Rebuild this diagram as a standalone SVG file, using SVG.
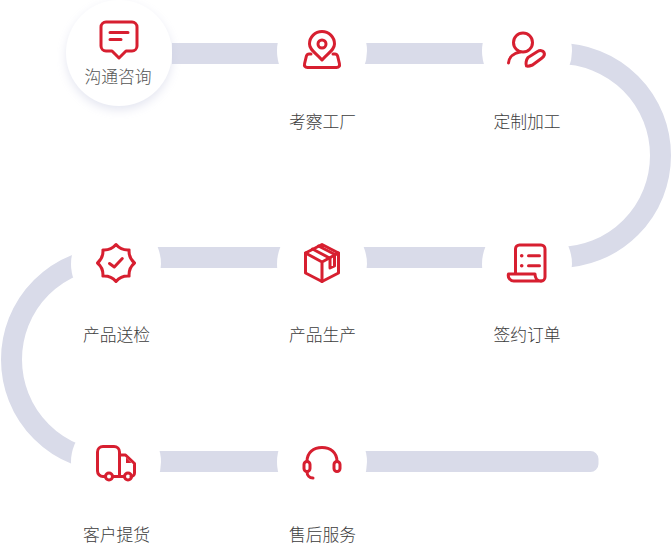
<svg xmlns="http://www.w3.org/2000/svg" width="671" height="543" viewBox="0 0 671 543">
<defs>
<filter id="halo" x="-30%" y="-30%" width="160%" height="170%"><feDropShadow dx="0" dy="4" stdDeviation="5" flood-color="#c5c9e0" flood-opacity="0.45"/></filter>
</defs>
<style>
text{font-family:"Noto Sans CJK SC","Noto Sans",sans-serif;font-size:16.8px;font-weight:300;fill:#3c3c3c;text-anchor:middle}
.i{fill:none;stroke:#d71f30;stroke-width:3;stroke-linecap:round;stroke-linejoin:round}
.f{fill:#d71f30;stroke:none}
.mask{fill:#fff}
</style>
<rect width="671" height="543" fill="#fff"/>
<g id="connectors">
<path d="M172 53.5H558.5A102 102 0 0 1 558.5 257.5H113.5A102 102 0 0 0 113.5 461.5H585" fill="none" stroke="#d9dbe9" stroke-width="21"/>
<path d="M585 451H590A8 8 0 0 1 598.500 459V464A8 8 0 0 1 590 472H585Z" fill="#d9dbe9"/>
</g>
<g id="node-1">
<circle cx="119" cy="53" r="53" fill="#fff" filter="url(#halo)"/>
<path class="i" d="M106 22H132A5 5 0 0 1 137 27V46A5 5 0 0 1 132 51H126L119 58L112 51H106A5 5 0 0 1 101 46V27A5 5 0 0 1 106 22Z"/>
<path class="i" d="M110 32.500H128M110 39.500H121"/>
<text x="118" y="83" style="fill:#555">沟通咨询</text>
</g>
<g id="node-2">
<circle class="mask" cx="322" cy="51" r="45"/>
<path class="i" d="M322 60C316 53 309.500 50 309.500 44A12.500 12.500 0 0 1 334.500 44C334.500 50 328 53 322 60Z"/>
<circle class="i" cx="322" cy="44" r="4"/>
<path class="i" d="M311 54H309C307.500 54 306.800 55 306.400 56L304.600 63.500C304 66 305 67.500 307.500 67.500H336.500C339 67.500 340 66 339.400 63.500L337.600 56C337.200 55 336.500 54 335 54H333"/>
<text x="322.500" y="128">考察工厂</text>
</g>
<g id="node-3">
<circle class="mask" cx="527" cy="51" r="45"/>
<circle class="i" cx="523" cy="42.500" r="9.500"/>
<path class="i" d="M508.500 63C509 57 514 53 520 52"/>
<path class="i" d="M528 57.500L537.500 51.500C540 50 543 50.500 544 52.500C545 54.500 544 56.500 542 58L532.500 65C530 66 527.500 66.500 526.500 66C525.500 64 526 60 528 57.500Z"/>
<text x="527" y="128">定制加工</text>
</g>
<g id="node-6">
<circle class="mask" cx="116" cy="264" r="45"/>
<path class="i" d="M116 244.500Q121.200 250.500 129.100 249.900Q128.500 257.800 134.500 263Q128.500 268.200 129.100 276.100Q121.200 275.500 116 281.500Q110.800 275.500 102.900 276.100Q103.500 268.200 97.500 263Q103.500 257.800 102.900 249.900Q110.800 250.500 116 244.500Z"/>
<path class="i" d="M109.500 263.500L114.300 267L122.300 258.500"/>
<text x="116.500" y="341">产品送检</text>
</g>
<g id="node-5">
<circle class="mask" cx="322" cy="264" r="45"/>
<path class="i" d="M322 244.500L338.500 253V273L322 281.500L305.500 273V253Z"/>
<path class="i" d="M305.500 253L322 262L338.500 253M322 262V281.500"/>
<path class="i" d="M312.500 249L329.500 258M318.500 246L335 254.500M330 258V268L334.500 266V255"/>
<text x="322.500" y="341">产品生产</text>
</g>
<g id="node-4">
<circle class="mask" cx="527" cy="264" r="45"/>
<path class="i" d="M515.500 273V249A4 4 0 0 1 519.500 245H541A4 4 0 0 1 545 249V277A4 4 0 0 1 541 281"/>
<path class="i" d="M541 281H514A5.500 5.500 0 0 1 508.500 274H535C535 278 537 281 541 281Z"/>
<path class="i" d="M528.500 255.800H539.500M528.500 265.800H539.500"/>
<circle class="f" cx="521.700" cy="255.800" r="1.800"/>
<circle class="f" cx="521.700" cy="265.800" r="1.800"/>
<text x="527" y="341">签约订单</text>
</g>
<g id="node-7">
<circle class="mask" cx="116" cy="462" r="45"/>
<path class="i" d="M105 476.500H103A5.500 5.500 0 0 1 97.500 471V452A5.500 5.500 0 0 1 103 446.500H114A5.500 5.500 0 0 1 119.500 452V476.500H112.500M119.500 455H125.500L134.500 463.500V473A3.500 3.500 0 0 1 131 476.500H131.500M124.500 476.500H112.500"/>
<circle class="i" cx="109" cy="476.500" r="3.500"/>
<circle class="i" cx="128" cy="476.500" r="3.500"/>
<path class="f" d="M126 457.500L131.500 463H126Z"/>
<text x="116.500" y="541">客户提货</text>
</g>
<g id="node-8">
<circle class="mask" cx="322" cy="462" r="45"/>
<path class="i" d="M307 461.500C307 452.500 313.500 447.500 322 447.500C330.500 447.500 337 452.500 337 461.500"/>
<rect class="i" x="304" y="461.500" width="6" height="10" rx="3"/>
<rect class="i" x="334" y="461.500" width="6" height="10" rx="3"/>
<path class="i" d="M307 471.500C307 475.500 309.500 478 313 478"/>
<text x="322.500" y="541">售后服务</text>
</g>
</svg>
